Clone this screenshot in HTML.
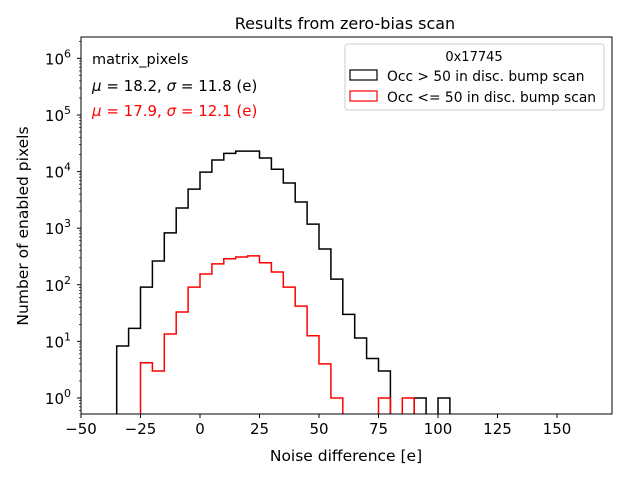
<!DOCTYPE html>
<html><head><meta charset="utf-8"><style>
body{margin:0;background:#fff;}
svg{display:block;font-family:"DejaVu Sans","Liberation Sans",sans-serif;}
</style></head><body>
<svg id="chart" width="640" height="480" viewBox="0 0 640 480"></svg>
<script>
const binEdgesStart = -35;
const binWidth = 5;
const blackCounts = [8.3,17,91,263,825,2280,4900,9800,16000,21000,23000,23000,17400,11000,6300,2900,1180,430,126,30,11.5,5,3,0,0,1,0,1];
const redCounts = [0,0,4.2,3,13.5,33,91,155,234,288,310,325,245,168,91,42,12.6,4,1,0,0,0,1,0,1,0,0,0];
const xTicks = [-50,-25,0,25,50,75,100,125,150];
const yTickExps = [0,1,2,3,4,5,6];

const L=81,R=612,T=37,B=414;
const xMin=-50, xMax=(612-200)/2.38;
const yMinLog=(398-B)/56.6, yMaxLog=(398-T)/56.6;
function sx(v){return L+(v-xMin)/(xMax-xMin)*(R-L);}
function sy(v){const lg=v>0?Math.log10(v):yMinLog-1;const c=Math.max(lg,yMinLog-0.05);return B-(c-yMinLog)/(yMaxLog-yMinLog)*(B-T);}
const NS="http://www.w3.org/2000/svg";
const svg=document.getElementById('chart');
function mk(tag,attrs,parent){const e=document.createElementNS(NS,tag);for(const k in attrs)e.setAttribute(k,attrs[k]);(parent||svg).appendChild(e);return e;}

const clip=mk('clipPath',{id:'pc'});mk('rect',{x:L,y:T,width:R-L,height:B-T},clip);

function stepPath(counts){
  let d='';let open=false;
  for(let i=0;i<counts.length;i++){
    const x0=sx(binEdgesStart+i*binWidth),x1=sx(binEdgesStart+(i+1)*binWidth);
    const c=counts[i];
    if(c>0){const y=sy(c);
      if(!open){d+=`M${x0},${B+2}`;open=true;}
      d+=`L${x0},${y}L${x1},${y}`;
    } else if(open){d+=`L${x0},${B+2}`;open=false;}
  }
  if(open){d+=`L${sx(binEdgesStart+counts.length*binWidth)},${B+2}`;}
  return d;
}
const g=mk('g',{'clip-path':'url(#pc)'});
const pb=mk('path',{d:stepPath(blackCounts),fill:'none',stroke:'#000','stroke-width':1.5},g);


const pr=mk('path',{d:stepPath(redCounts),fill:'none',stroke:'#f00','stroke-width':1.5},g);



const frame=mk('rect',{x:L,y:T,width:R-L,height:B-T,fill:'none',stroke:'#000','stroke-width':1});



xTicks.forEach(v=>{const x=sx(v);
  mk('line',{x1:x,x2:x,y1:B,y2:B+4,stroke:'#000'});
  const t=mk('text',{x:x,y:B+20,'text-anchor':'middle','font-size':15});
  t.textContent=(v<0?'\u2212'+(-v):v);
  
  
});
yTickExps.forEach(e=>{const y=sy(Math.pow(10,e));
  mk('line',{x1:L-4,x2:L,y1:y,y2:y,stroke:'#000'});
  const t=mk('text',{x:L-10,y:y+6,'text-anchor':'end','font-size':15});
  t.innerHTML='10<tspan dy="-7" font-size="11">'+e+'</tspan>';
  
  
});
for(let e=-1;e<=6;e++)for(let m=2;m<=9;m++){const v=m*Math.pow(10,e);const lg=Math.log10(v);
  if(lg<yMinLog||lg>yMaxLog)continue;const y=sy(v);
  mk('line',{x1:L-2,x2:L,y1:y,y2:y,stroke:'#000','stroke-width':0.7});}

const title=mk('text',{x:345,y:29,'text-anchor':'middle','font-size':16});
title.textContent='Results from zero-bias scan';

const xt=mk('text',{x:346,y:461,'text-anchor':'middle','font-size':15.5});
xt.textContent='Noise difference [e]';

const yt=mk('text',{x:0,y:0,'text-anchor':'middle','font-size':15.5,transform:'translate(28,226) rotate(-90)'});
yt.textContent='Number of enabled pixels';


const a1=mk('text',{x:92,y:64,'font-size':14.5});a1.textContent='matrix_pixels';

const a2=mk('text',{x:92,y:91,'font-size':15});a2.innerHTML='<tspan font-style="italic">μ</tspan> = 18.2, <tspan font-style="italic">σ</tspan> = 11.8 (e)';

const a3=mk('text',{x:92,y:116,'font-size':15,fill:'#f00'});a3.innerHTML='<tspan font-style="italic">μ</tspan> = 17.9, <tspan font-style="italic">σ</tspan> = 12.1 (e)';


const lg=mk('g',{});

mk('rect',{x:345,y:44,width:259,height:66,rx:3,fill:'#fff',stroke:'#ccc'},lg);
const lt=mk('text',{x:474,y:61,'text-anchor':'middle','font-size':13},lg);lt.textContent='0x17745';
mk('rect',{x:350,y:70,width:27,height:10,fill:'none',stroke:'#000','stroke-width':1.2},lg);
const l1=mk('text',{x:387,y:81,'font-size':13.8},lg);l1.textContent='Occ > 50 in disc. bump scan';

mk('rect',{x:350,y:91,width:27,height:10,fill:'none',stroke:'#f00','stroke-width':1.2},lg);
const l2=mk('text',{x:387,y:102,'font-size':13.8},lg);l2.textContent='Occ <= 50 in disc. bump scan';

</script>
</body></html>
